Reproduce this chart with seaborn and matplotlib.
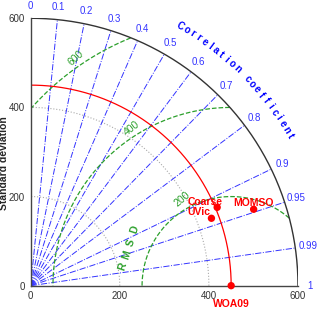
import matplotlib.pyplot as plt
import seaborn as sns
import pandas as pd
import numpy as np

# Taylor diagram values
ref_name = "WOA09"
ref_std = 450
models = ["Coarse", "UVic", "MOMSO"]
model_std = [454, 433, 529]
model_corr = [0.922, 0.937, 0.946]

corr_ticks = [0, 0.1, 0.2, 0.3, 0.4, 0.5, 0.6, 0.7, 0.8, 0.9, 0.95, 0.99, 1]
std_ticks = [0, 200, 400, 600]
rmsd_levels = [200, 400, 600]
std_max = 600

sns.set_style("white")
plt.rcParams['font.family'] = ['Liberation Sans', 'DejaVu Sans']

fig = plt.figure(figsize=(3.2, 3.11), dpi=100)
ax = fig.add_axes([0.0959, 0.0814, 0.8353, 0.8598])
ax.set_xlim(0, std_max)
ax.set_ylim(0, std_max)

th = np.linspace(0, np.pi / 2, 300)

# grey dotted std arcs
for s in [200, 400]:
    ax.plot(s * np.cos(th), s * np.sin(th), color='#aaaaaa', ls=':', lw=0.8)

# correlation rays
blue = '#3333ff'
for c in corr_ticks[1:-1]:
    a = np.arccos(c)
    ax.plot([0, std_max * np.cos(a)], [0, std_max * np.sin(a)], color=blue, ls='-.', lw=0.7)
    ax.text(628 * np.cos(a), 628 * np.sin(a), str(c), color=blue, fontsize=7,
            ha='center', va='center', clip_on=False)
for c in [0, 1]:
    a = np.arccos(c)
    ax.text(628 * np.cos(a), 628 * np.sin(a), str(c), color=blue, fontsize=7,
            ha='center', va='center', clip_on=False)

# RMSD arcs
green = '#2ca02c'
tt = np.linspace(0, np.pi, 600)
for r in rmsd_levels:
    x = ref_std + r * np.cos(tt)
    y = r * np.sin(tt)
    m = (np.hypot(x, y) <= std_max) & (x >= 0)
    x = np.where(m, x, np.nan)
    y = np.where(m, y, np.nan)
    ax.plot(x, y, color=green, ls='--', lw=0.9)
label_pos = {200: (340, 195, 40), 400: (226, 352, 38), 600: (102, 512, 42)}
for r in rmsd_levels:
    lx, ly, rot = label_pos[r]
    ax.text(lx, ly, str(r), color=green, fontsize=7.5, rotation=rot,
            ha='center', va='center')
for i, ch in enumerate("RMSD"):
    f = i / 3
    ax.text(206 + f * 27, 42 + f * 83, ch, color=green, fontsize=7.5,
            fontweight='bold', rotation=72, ha='center', va='center')

# reference std arc
ax.plot(ref_std * np.cos(th), ref_std * np.sin(th), color='red', lw=0.9)

# outer arc
ax.plot(std_max * np.cos(th), std_max * np.sin(th), color='#333333', lw=1)

# Correlation coefficient curved label
word = "Correlation coefficient"
angs = np.linspace(60, 30, len(word))
for ch, a in zip(word, angs):
    ar = np.radians(a)
    ax.text(672 * np.cos(ar), 672 * np.sin(ar), ch, color='blue', fontsize=7,
            fontweight='bold', rotation=a - 90, ha='center', va='center',
            clip_on=False)

# points
df = pd.DataFrame({'name': models, 'std': model_std, 'corr': model_corr})
df['x'] = df['std'] * df['corr']
df['y'] = df['std'] * np.sin(np.arccos(df['corr']))
ref_df = pd.DataFrame({'name': [ref_name], 'x': [ref_std], 'y': [0]})
sns.scatterplot(data=pd.concat([df, ref_df]), x='x', y='y', color='red', s=28,
                edgecolor='none', ax=ax, clip_on=False, zorder=5)

label_off = {"Coarse": (-28, 12), "UVic": (-29, 14), "MOMSO": (0, 15)}
for _, row in df.iterrows():
    dx, dy = label_off[row['name']]
    ax.text(row['x'] + dx, row['y'] + dy, row['name'], color='red', fontsize=7.5,
            fontweight='bold', ha='center', va='center')
ax.text(ref_std, -40, ref_name, color='red', fontsize=7.5, fontweight='bold',
        ha='center', va='center', clip_on=False)

ax.set_xticks(std_ticks)
ax.set_yticks(std_ticks)
ax.tick_params(labelsize=7, length=2, pad=2, colors='#333333')
for s in ['top', 'right']:
    ax.spines[s].set_visible(False)
for s in ['left', 'bottom']:
    ax.spines[s].set_color('#444444')
    ax.spines[s].set_linewidth(1)
ax.set_xlabel('')
ax.set_ylabel('Standard deviation', fontsize=7.5, fontweight='bold')
ax.yaxis.set_label_coords(-0.08, 0.46)

fig.savefig('out.png', dpi=100)
